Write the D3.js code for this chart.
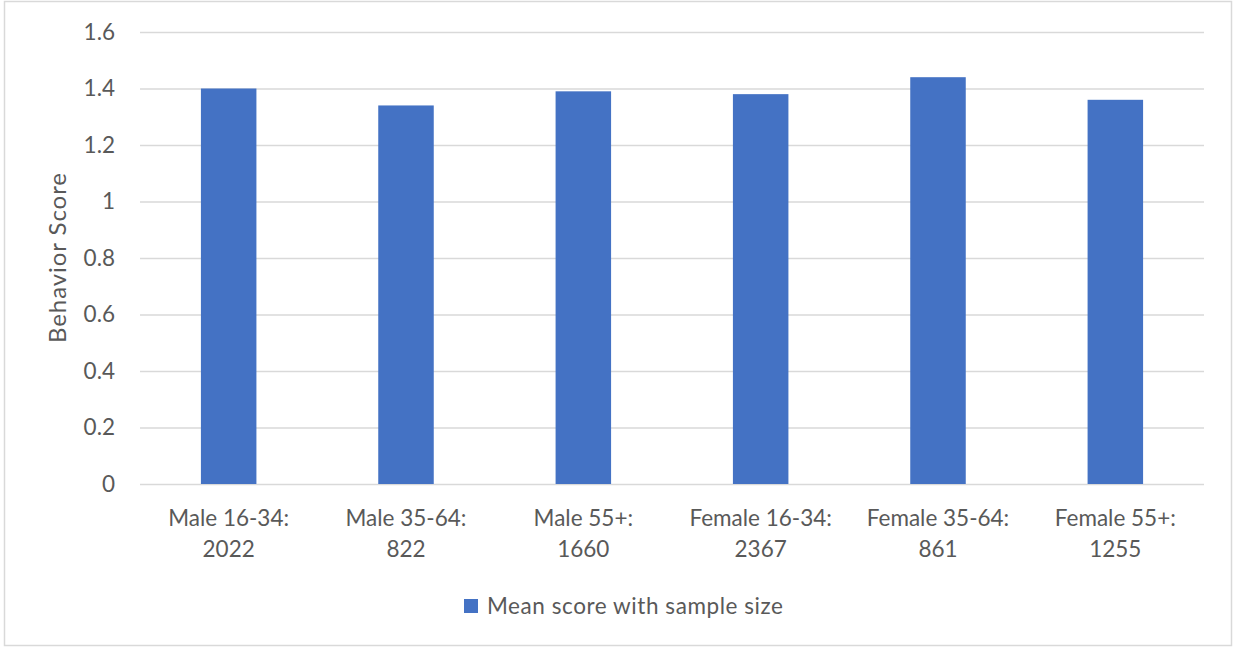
<!DOCTYPE html>
<html>
<head>
<meta charset="utf-8">
<script src="https://cdn.jsdelivr.net/npm/d3@7"></script>
<style>
  html, body { margin: 0; padding: 0; background: #fff; }
  svg { display: block; font-family: Lato, "Open Sans", sans-serif; }
</style>
</head>
<body>
<svg id="chart" width="1233" height="647"></svg>
<script>
// Group labels (two lines: group name, sample size)
const groups = ["Male 16-34:", "Male 35-64:", "Male 55+:", "Female 16-34:", "Female 35-64:", "Female 55+:"];
const sampleSizes = ["2022", "822", "1660", "2367", "861", "1255"];
// Mean behavior score per group
const meanScores = [1.40, 1.34, 1.39, 1.38, 1.44, 1.36];
const yTicks = [0, 0.2, 0.4, 0.6, 0.8, 1, 1.2, 1.4, 1.6];
const seriesName = "Mean score with sample size";
const yTitle = "Behavior Score";

const W = 1233, H = 647;
const plot = { left: 140, right: 1204, top: 32, bottom: 484 };
const textColor = "#595959", gridColor = "#D9D9D9", barColor = "#4472C4";
const fontSize = 22.5;

const svg = d3.select("#chart");

// chart frame
svg.append("rect")
  .attr("x", 4.5).attr("y", 1.5)
  .attr("width", W - 6).attr("height", H - 3)
  .attr("fill", "#fff").attr("stroke", gridColor).attr("stroke-width", 1.5);

const x = d3.scaleBand().domain(groups).range([plot.left, plot.right]).paddingInner(0.687).paddingOuter(0.3435);
const y = d3.scaleLinear().domain([0, 1.6]).range([plot.bottom, plot.top]);

// horizontal gridlines + tick labels
const yAxis = d3.axisLeft(y).tickValues(yTicks).tickSize(-(plot.right - plot.left)).tickPadding(25)
  .tickFormat(d => d3.format("~g")(d));
const gy = svg.append("g").attr("transform", `translate(${plot.left},0)`).call(yAxis);
gy.select(".domain").remove();
gy.selectAll(".tick line").attr("stroke", gridColor).attr("stroke-width", 1.5);
gy.selectAll(".tick text").attr("fill", textColor).attr("font-size", fontSize).attr("font-family", "Lato, sans-serif");

// bars
svg.append("g").selectAll("rect").data(meanScores).join("rect")
  .attr("x", (d, i) => x(groups[i]))
  .attr("width", x.bandwidth())
  .attr("y", d => y(d))
  .attr("height", d => y(0) - y(d))
  .attr("fill", barColor);

// category labels
const xl = svg.append("g").selectAll("text").data(groups).join("text")
  .attr("x", d => x(d) + x.bandwidth() / 2)
  .attr("text-anchor", "middle")
  .attr("fill", textColor)
  .attr("font-size", fontSize);
xl.append("tspan").attr("x", d => x(d) + x.bandwidth() / 2).attr("y", 526).text(d => d);
xl.append("tspan").attr("x", d => x(d) + x.bandwidth() / 2).attr("y", 557).text((d, i) => sampleSizes[i]);

// y-axis title
svg.append("text")
  .attr("transform", "translate(66,258) rotate(-90)")
  .attr("text-anchor", "middle")
  .attr("fill", textColor)
  .attr("font-size", 24)
  .attr("textLength", 170)
  .attr("lengthAdjust", "spacing")
  .text(yTitle);

// legend
const lg = svg.append("g");
lg.append("rect").attr("x", 464).attr("y", 599).attr("width", 14).attr("height", 14).attr("fill", barColor);
lg.append("text").attr("x", 487).attr("y", 614).attr("fill", textColor).attr("font-size", fontSize)
  .attr("textLength", 296).attr("lengthAdjust", "spacing").text(seriesName);
</script>
</body>
</html>
